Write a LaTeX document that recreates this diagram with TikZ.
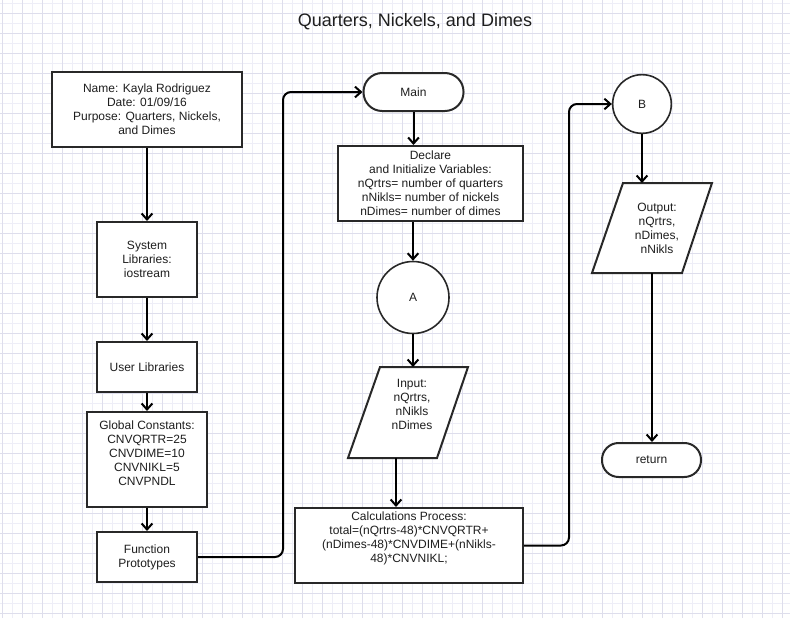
\documentclass[tikz,border=0pt]{standalone}
\usepackage{fontspec}
\setmainfont{Liberation Sans}
\usetikzlibrary{arrows.meta}
\definecolor{gmaj}{RGB}{222,222,236}
\definecolor{gmin}{RGB}{238,238,247}
\definecolor{edge}{RGB}{40,40,40}
\definecolor{txt}{RGB}{30,30,30}
\begin{document}
\begin{tikzpicture}[x=0.75pt,y=-0.75pt,
  every node/.style={font=\fontsize{9}{10.5}\selectfont, text=txt, align=center},
  box/.style={draw=edge, line width=1.5pt, fill=white, inner sep=0pt},
  term/.style={box, rounded corners=14pt},
  conncirc/.style={draw=edge, line width=1.2pt, fill=white, circle, inner sep=0pt},
  para/.style={draw=edge, line width=1.5pt, fill=white},
  txtnode/.style={inner sep=0pt},
  arr/.style={line width=1.5pt, black, -{Straight Barb[length=4.5pt,width=8pt,line width=1.5pt]}},
  elbow/.style={arr, rounded corners=6pt}]
\useasboundingbox (0,0) rectangle (790,618);
\fill[white] (0,0) rectangle (790,618);
% grid
\foreach \x in {12,32,...,792} \draw[gmin, line width=0.6pt] (\x,0) -- (\x,618);
\foreach \y in {3,23,...,618} \draw[gmin, line width=0.6pt] (0,\y) -- (790,\y);
\foreach \x in {2,22,...,790} \draw[gmaj, line width=0.75pt] (\x,0) -- (\x,618);
\foreach \y in {13,33,...,618} \draw[gmaj, line width=0.75pt] (0,\y) -- (790,\y);

\node[txtnode, font=\fontsize{13.5}{16}\selectfont] (title) at (415,22) {Quarters, Nickels, and Dimes};

% left column
\node[box, minimum width=142.5pt, minimum height=56.25pt] (name) at (147,109.5)
  {Name: Kayla Rodriguez\\Date: 01/09/16\\Purpose: Quarters, Nickels,\\and Dimes};
\node[box, minimum width=75pt, minimum height=56.25pt] (sys) at (147,259.5)
  {System\\Libraries:\\iostream};
\node[box, minimum width=75pt, minimum height=37.5pt] (user) at (147,367) {User Libraries};
\node[box, minimum width=90pt, minimum height=71.25pt] (glob) at (147,459.5) {};
\node[txtnode] (globtxt) at (147,453) {Global Constants:\\CNVQRTR=25\\CNVDIME=10\\CNVNIKL=5\\CNVPNDL};
\node[box, minimum width=75pt, minimum height=37.5pt] (fp) at (147,557) {Function\\Prototypes};

% middle column
\node[term, minimum width=75pt, minimum height=28.5pt] (main) at (413.5,92) {Main};
\node[box, minimum width=138.75pt, minimum height=56.25pt] (decl) at (430.5,183.5)
  {Declare\\and Initialize Variables:\\nQrtrs= number of quarters\\nNikls= number of nickels\\nDimes= number of dimes};
\node[conncirc, minimum size=54pt] (A) at (413,297.5) {A};
\draw[para] (380,367) -- (468,367) -- (437,458) -- (348,458) -- cycle;
\coordinate (intop) at (413,367);
\coordinate (inbot) at (396,458);
\node[txtnode] (intxt) at (412,404) {Input:\\nQrtrs,\\nNikls\\nDimes};
\node[box, minimum width=171pt, minimum height=56.25pt] (calc) at (409,545.5) {};
\node[txtnode] (calctxt) at (409,538) {Calculations Process:\\total=(nQrtrs-48)*CNVQRTR+\\(nDimes-48)*CNVDIME+(nNikls-\\48)*CNVNIKL;};

% right column
\node[conncirc, minimum size=44pt] (B) at (642,104) {B};
\draw[para] (623,183) -- (712,183) -- (682,273) -- (592,273) -- cycle;
\coordinate (outtop) at (642,183);
\coordinate (outbot) at (652,273);
\node[txtnode] (outtxt) at (657,228) {Output:\\nQrtrs,\\nDimes,\\nNikls};
\node[term, minimum width=74.25pt, minimum height=25.5pt, rounded corners=12.5pt] (ret) at (651.5,460) {return};

% connectors
\draw[arr] (name) -- (sys);
\draw[arr] (sys) -- (user);
\draw[arr] (user) -- (glob);
\draw[arr] (glob) -- (fp);
\draw[elbow] (fp.east) -- ++(85,0) |- (main.west);
\draw[arr] (main.south) -- (main.south |- decl.north);
\draw[arr] (A.north |- decl.south) -- (A.north);
\draw[arr] (A.south) -- (intop);
\draw[arr] (inbot) -- (inbot |- calc.north);
\draw[elbow] (calc.east) -- ++(45,0) |- (B.west);
\draw[arr] (B.south) -- (outtop);
\draw[arr] (outbot) -- (outbot |- ret.north);
\end{tikzpicture}
\end{document}
